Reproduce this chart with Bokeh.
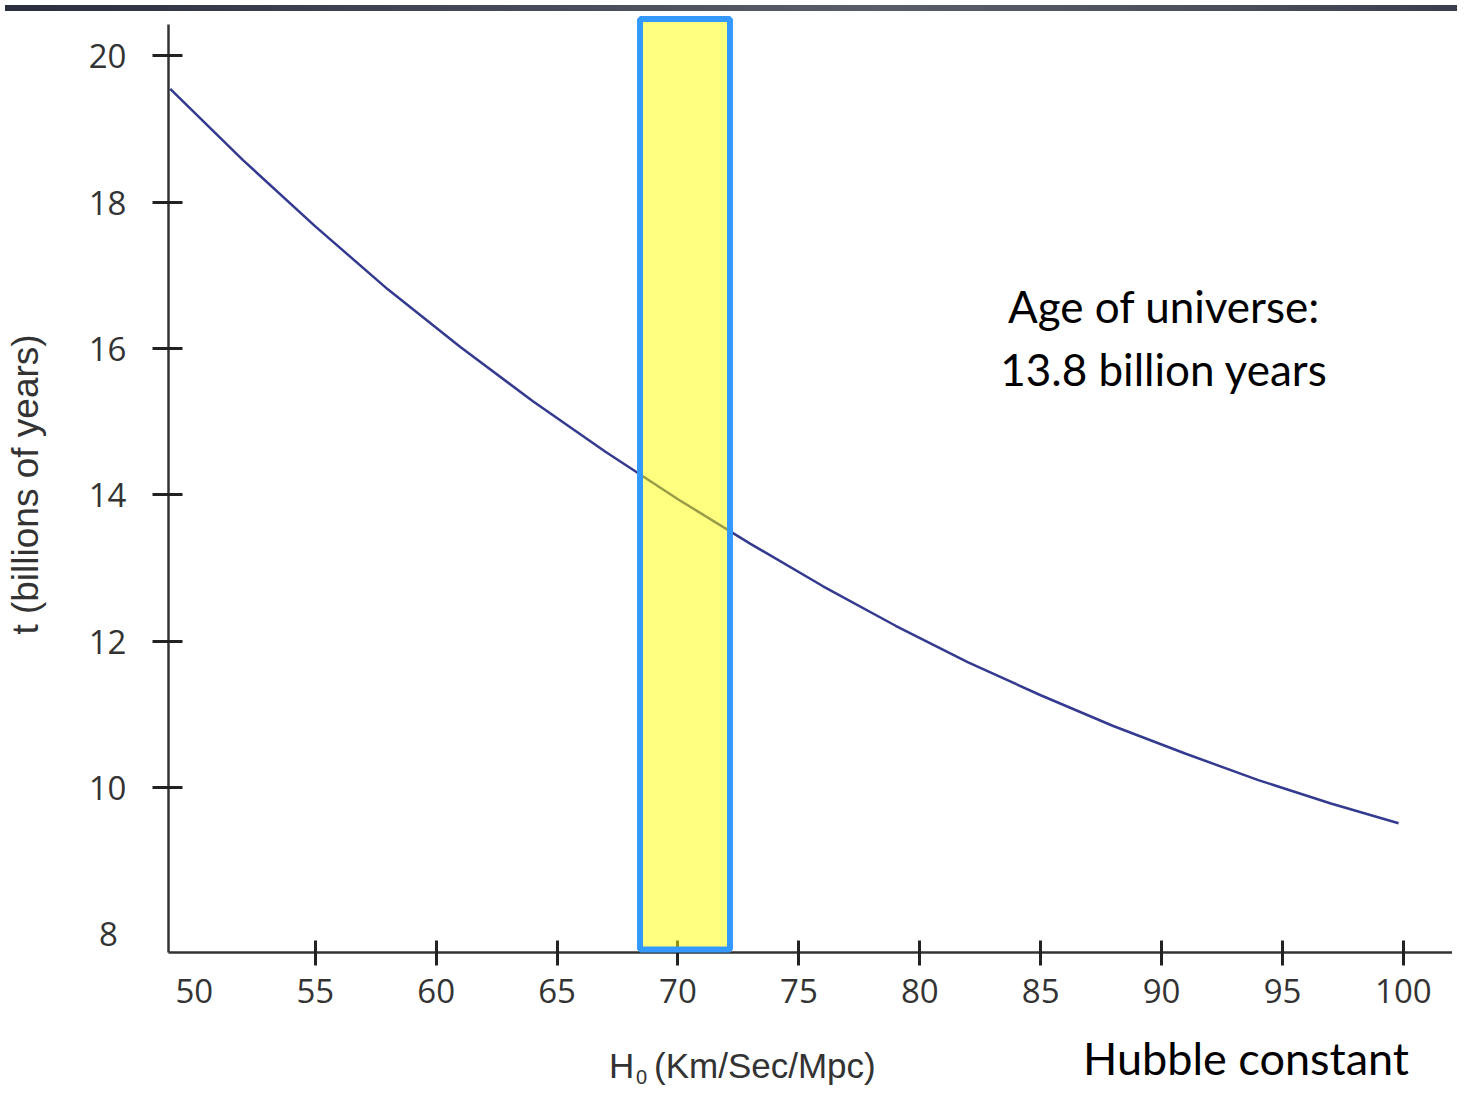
import numpy as np
from bokeh.plotting import figure
from bokeh.models import Range1d, FixedTicker, Label, Div, LinearAxis
from bokeh.layouts import column
from bokeh.core.properties import value
from bokeh.embed import file_html
from bokeh.resources import INLINE

# ---- data ----
hubble = [49.0, 52, 55, 58, 61, 64, 67, 70, 73, 76, 79, 82, 85, 88, 91, 94, 97, 99.8]
age = [19.55, 18.58, 17.67, 16.81, 16.02, 15.28, 14.59, 13.94, 13.33, 12.75,
       12.21, 11.71, 11.26, 10.84, 10.46, 10.10, 9.78, 9.51]

band_h0 = [68.43, 72.15]      # highlighted H0 range
band_t = [7.784, 20.506]      # vertical extent of the highlight

y_ticks = [10, 12, 14, 16, 18, 20]
y_labels = [8, 10, 12, 14, 16, 18, 20]
x_ticks = [55, 60, 65, 70, 75, 80, 85, 90, 95, 100]
x_labels = [50, 55, 60, 65, 70, 75, 80, 85, 90, 95, 100]

x_lo, x_hi = 48.93, 102.03
y_lo, y_hi = 7.743, 20.540

TICK_FONT = "Open Sans"
AX_FONT = "Liberation Sans"
NOTE_FONT = "Lato"
GREY = "#333333"

p = figure(width=1452, height=1006,
           x_range=Range1d(x_lo, x_hi), y_range=Range1d(y_lo, y_hi),
           output_backend="svg", toolbar_location=None,
           min_border_left=168, min_border_right=0, min_border_top=0,
           min_border_bottom=70)
p.outline_line_color = None
p.xgrid.visible = False
p.ygrid.visible = False

# curve
p.line(hubble, age, line_color="#333a8f", line_width=2.5)

# highlight band (drawn above the axes)
p.quad(left=[band_h0[0]], right=[band_h0[1]], bottom=[band_t[0]], top=[band_t[1]],
       fill_color="#ffff00", fill_alpha=0.5, line_color="#3399ff", line_width=6,
       level="overlay")

# ---- x axis: marks (inner) + labels (outer) ----
xa = p.xaxis[0]
xa.ticker = FixedTicker(ticks=x_ticks)
xa.minor_tick_line_color = None
xa.major_tick_in = 12
xa.major_tick_out = 13
xa.major_tick_line_width = 3
xa.major_tick_line_color = "#222222"
xa.axis_line_width = 2.5
xa.axis_line_color = GREY
xa.major_label_text_font_size = "1px"
xa.major_label_text_alpha = 0
xa.major_label_standoff = 0

xb = LinearAxis(ticker=FixedTicker(ticks=x_labels))
xb.axis_line_color = None
xb.major_tick_line_color = None
xb.minor_tick_line_color = None
xb.major_tick_in = 0
xb.major_tick_out = 0
xb.major_label_text_font = TICK_FONT
xb.major_label_text_font_size = "33px"
xb.major_label_text_color = GREY
xb.major_label_standoff = 13
p.add_layout(xb, "below")

# ---- y axis: marks (inner) + labels (outer) ----
ya = p.yaxis[0]
ya.ticker = FixedTicker(ticks=y_ticks)
ya.bounds = (y_lo, 20.424)
ya.minor_tick_line_color = None
ya.major_tick_in = 14
ya.major_tick_out = 16
ya.major_tick_line_width = 3
ya.major_tick_line_color = "#222222"
ya.axis_line_width = 2.5
ya.axis_line_color = GREY
ya.major_label_text_font_size = "1px"
ya.major_label_text_alpha = 0
ya.major_label_standoff = 0

yb = LinearAxis(ticker=FixedTicker(ticks=y_labels))
yb.axis_line_color = None
yb.major_tick_line_color = None
yb.minor_tick_line_color = None
yb.major_tick_in = 0
yb.major_tick_out = 0
yb.major_label_text_font = TICK_FONT
yb.major_label_text_font_size = "33px"
yb.major_label_text_color = GREY
yb.major_label_standoff = 26
yb.major_label_overrides = {8: "8\u00a0"}
yb.axis_label = "t (billions of years)"
yb.axis_label_text_font = AX_FONT
yb.axis_label_text_font_size = "37px"
yb.axis_label_text_font_style = "normal"
yb.axis_label_text_color = GREY
yb.axis_label_standoff = 40
p.add_layout(yb, "left")

# note inside the plot
p.add_layout(Label(x=90.10, y=16.58, text="Age of universe:", text_font=NOTE_FONT,
                   text_font_size="44px", text_color="#000000",
                   text_align="center", text_baseline="alphabetic"))
p.add_layout(Label(x=90.10, y=15.72, text="13.8 billion years", text_font=NOTE_FONT,
                   text_font_size="44px", text_color="#000000",
                   text_align="center", text_baseline="alphabetic"))

# ---- bottom strip with the axis title and caption ----
p2 = figure(width=1452, height=64, x_range=p.x_range, y_range=Range1d(0, 64),
            output_backend="svg", toolbar_location=None,
            x_axis_location=None, y_axis_location=None,
            min_border_left=168, min_border_right=0, min_border_top=0,
            min_border_bottom=0)
p2.outline_line_color = None
p2.grid.visible = False

p2.text(x=[67.15], y=[21], text=["H"], text_font=value(AX_FONT),
        text_font_size="35px", text_color=GREY, text_align="left",
        text_baseline="alphabetic")
p2.text(x=[68.26], y=[10], text=["0"], text_font=value(AX_FONT),
        text_font_size="20px", text_color=GREY, text_align="left",
        text_baseline="alphabetic")
p2.text(x=[69.01], y=[21], text=["(Km/Sec/Mpc)"], text_font=value(AX_FONT),
        text_font_size="35px", text_color=GREY, text_align="left",
        text_baseline="alphabetic")
p2.text(x=[93.49], y=[28.5], text=["Hubble constant"], text_font=value(NOTE_FONT),
        text_font_size="45px", text_color="#000000", text_align="center",
        text_baseline="alphabetic")

bar = Div(text="", width=1452, height=6,
          styles={"background": "linear-gradient(90deg, #2a2f3f 0%, #464a58 35%, #5a5d69 60%, #4a4e5b 85%, #3a3e4c 100%)"})

layout = column(bar, p, p2, spacing=0)
open("out.html", "w").write(file_html(layout, INLINE))
